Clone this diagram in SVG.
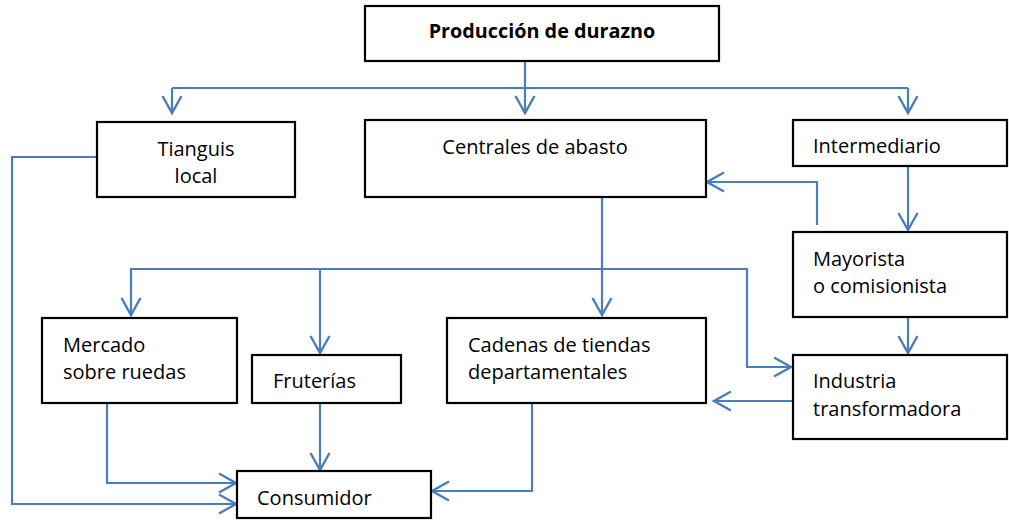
<svg xmlns="http://www.w3.org/2000/svg" width="1009" height="520" viewBox="0 0 1009 520">
<defs>
<marker id="arr" markerUnits="userSpaceOnUse" markerWidth="40" markerHeight="40" refX="0" refY="0" orient="auto" overflow="visible">
<path d="M -17 -9.5 L 0 0 L -17 9.5" fill="none" stroke="#4a7ebb" stroke-width="2.4"/>
</marker>
</defs>
<style>
.box{fill:#fff;stroke:#000;stroke-width:2.2}
.t{font-family:"Open Sans","Noto Sans",sans-serif;font-size:20px;fill:#000}
.c{text-anchor:middle}
.b{font-weight:bold;font-size:19.8px}
.ln{fill:none;stroke:#4a7ebb;stroke-width:2.2}
.a{marker-end:url(#arr)}
</style>
<rect width="1009" height="520" fill="#fff"/>
<g id="connectors">
<path class="ln" d="M525,88 H172"/>
<path class="ln a" d="M172,88 V113"/>
<path class="ln" d="M525,88 H908"/>
<path class="ln a" d="M908,88 V113"/>
<path class="ln a" d="M525,61 V113"/>
<path class="ln a" d="M908,166 V230"/>
<path class="ln a" d="M817,225 V182 H707"/>
<path class="ln a" d="M602,197 V315"/>
<path class="ln a" d="M602,269 H131 V315"/>
<path class="ln a" d="M320,269 V353"/>
<path class="ln a" d="M602,269 H747 V367 H791"/>
<path class="ln a" d="M908,317 V353"/>
<path class="ln a" d="M793,401 H714"/>
<path class="ln a" d="M107,403 V483 H236"/>
<path class="ln a" d="M320,403 V470"/>
<path class="ln a" d="M97,157 H12 V504 H236"/>
<path class="ln a" d="M532,403 V491 H432"/>
</g>
<g id="produccion">
<rect class="box" x="365" y="6" width="354" height="55"/>
<text class="t c b" x="542" y="38">Producción de durazno</text>
</g>
<g id="tianguis">
<rect class="box" x="97" y="122" width="198" height="75"/>
<text class="t c" x="196" y="156">Tianguis</text>
<text class="t c" x="196" y="183">local</text>
</g>
<g id="centrales">
<rect class="box" x="365" y="120" width="341" height="77"/>
<text class="t c" x="535" y="154">Centrales de abasto</text>
</g>
<g id="intermediario">
<rect class="box" x="793" y="120" width="214" height="46"/>
<text class="t" x="813" y="153">Intermediario</text>
</g>
<g id="mayorista">
<rect class="box" x="793" y="232" width="214" height="85"/>
<text class="t" x="813" y="266">Mayorista</text>
<text class="t" x="813" y="293">o comisionista</text>
</g>
<g id="mercado">
<rect class="box" x="42" y="318" width="195" height="85"/>
<text class="t" x="63" y="352">Mercado</text>
<text class="t" x="63" y="379">sobre ruedas</text>
</g>
<g id="fruterias">
<rect class="box" x="252" y="355" width="149" height="48"/>
<text class="t" x="273" y="388">Fruterías</text>
</g>
<g id="cadenas">
<rect class="box" x="447" y="318" width="259" height="85"/>
<text class="t" x="468" y="352">Cadenas de tiendas</text>
<text class="t" x="468" y="379">departamentales</text>
</g>
<g id="industria">
<rect class="box" x="793" y="355" width="214" height="84"/>
<text class="t" x="813" y="388">Industria</text>
<text class="t" x="813" y="416">transformadora</text>
</g>
<g id="consumidor">
<rect class="box" x="237" y="471" width="194" height="47"/>
<text class="t" x="257" y="505">Consumidor</text>
</g>
</svg>
